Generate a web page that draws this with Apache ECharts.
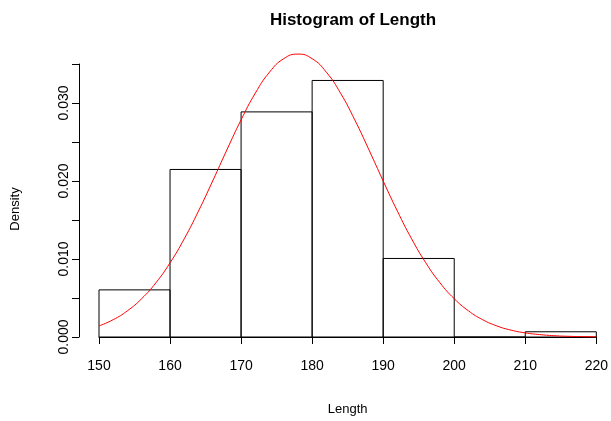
<!DOCTYPE html>
<html>
<head>
<meta charset="utf-8">
<script src="https://cdn.jsdelivr.net/npm/echarts@6/dist/echarts.min.js"></script>
<style>html,body{margin:0;padding:0;background:#fff}#c{width:611px;height:421px}</style>
</head>
<body>
<div id="c"></div>
<script>
// Histogram bins (Length) and densities
const binStarts = [150, 160, 170, 180, 190, 200, 210];
const binWidth = 10;
const densities = [0.00604, 0.02148, 0.02886, 0.03289, 0.01007, 0.0, 0.00067];

// Red density curve
const curveX = [150,152,154,156,158,160,162,164,166,168,170,172,174,176,178,180,182,184,186,188,190,192,194,196,198,200,202,204,206,208,210,212,214,216,218,220];
const curveY = [0.00142,0.00222,0.00336,0.00491,0.00694,0.00951,0.01259,0.01614,0.02000,0.02399,0.02784,0.03126,0.03395,0.03568,0.03627,0.03568,0.03395,0.03126,0.02784,0.02399,0.02000,0.01614,0.01259,0.00951,0.00694,0.00491,0.00336,0.00222,0.00142,0.00088,0.00053,0.00031,0.00017,0.00009,0.00005,0.00002];

const xTicks = [150, 160, 170, 180, 190, 200, 210, 220];
const yTickLabels = ['0.000', '0.010', '0.020', '0.030'];

const FONT = '"Liberation Sans", Arial, Helvetica, sans-serif';
const chart = echarts.init(document.getElementById('c'), null, {renderer: 'canvas'});

const barData = binStarts.map((s, i) => [s, s + binWidth, densities[i]]);
const curveData = curveX.map((x, i) => [x, curveY[i]]);

chart.setOption({
  animation: false,
  backgroundColor: '#ffffff',
  title: {
    text: 'Histogram of Length',
    left: 348, top: 7, textAlign: 'center',
    textStyle: {fontFamily: FONT, fontSize: 17, fontWeight: 'bold', color: '#000'}
  },
  graphic: [{
    type: 'text',
    x: 15, y: 209, rotation: Math.PI / 2,
    style: {text: 'Density', fontFamily: FONT, fontSize: 13, fill: '#000',
      align: 'center', verticalAlign: 'middle'}
  }],
  grid: {left: 99, right: 14, top: 64, bottom: 84},
  xAxis: {
    type: 'value', min: 150, max: 220, interval: 10,
    offset: 11,
    name: 'Length', nameLocation: 'middle', nameGap: 55,
    nameTextStyle: {fontFamily: FONT, fontSize: 13, color: '#000'},
    axisLine: {show: true, lineStyle: {color: '#000', width: 1}},
    axisTick: {show: true, length: 7, lineStyle: {color: '#000'}},
    axisLabel: {fontFamily: FONT, fontSize: 14, color: '#000', margin: 11,
      formatter: v => xTicks.includes(v) ? String(v) : ''},
    splitLine: {show: false}
  },
  yAxis: {
    type: 'value', min: 0, max: 0.035, interval: 0.005,
    offset: 20,
    axisLine: {show: true, lineStyle: {color: '#000', width: 1}},
    axisTick: {show: true, length: 7, lineStyle: {color: '#000'}},
    axisLabel: {fontFamily: FONT, fontSize: 14, color: '#000', rotate: 90, margin: 8,
      formatter: v => {
        const s = v.toFixed(3);
        return yTickLabels.includes(s) ? s : '';
      }},
    splitLine: {show: false}
  },
  series: [
    {
      type: 'custom',
      data: barData,
      encode: {x: [0, 1], y: 2},
      clip: false,
      renderItem: (params, api) => {
        const p0 = api.coord([api.value(0), 0]);
        const p1 = api.coord([api.value(1), api.value(2)]);
        return {
          type: 'rect',
          shape: {x: p0[0], y: p1[1], width: p1[0] - p0[0], height: p0[1] - p1[1]},
          style: {fill: 'none', stroke: '#000', lineWidth: 1}
        };
      }
    },
    {
      type: 'line',
      data: curveData,
      smooth: true,
      showSymbol: false,
      clip: false,
      lineStyle: {color: '#ff0000', width: 1}
    }
  ]
});
</script>
</body>
</html>
